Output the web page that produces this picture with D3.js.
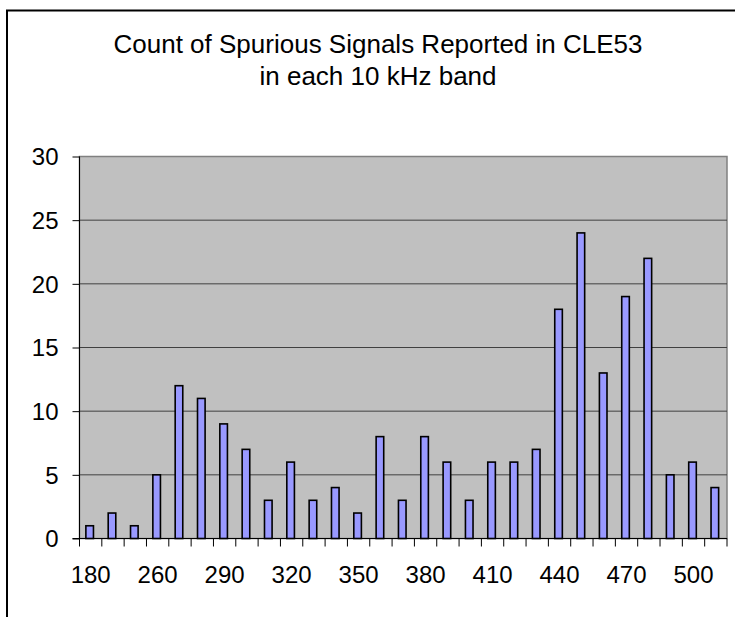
<!DOCTYPE html>
<html><head><meta charset="utf-8">
<script src="https://cdn.jsdelivr.net/npm/d3@7"></script>
<style>body{margin:0;background:#fff}svg{display:block}text{font-family:"Liberation Sans",Arial,sans-serif;fill:#000}</style>
</head><body>
<script>
const titleLines = ["Count of Spurious Signals Reported in CLE53", "in each 10 kHz band"];
const categories = ["180","200","250","260","270","280","290","300","310","320","330","340","350","360","370","380","390","400","410","420","430","440","450","460","470","480","490","500","510"];
const counts = [1,2,1,5,12,11,9,7,3,6,3,4,2,8,3,8,6,3,6,6,7,18,24,13,19,22,5,6,4];
const shownLabels = ["180","260","290","320","350","380","410","440","470","500"];
const yTicks = [0,5,10,15,20,25,30];

const W=735,H=617;
const svg=d3.select("body").append("svg").attr("width",W).attr("height",H);
svg.append("rect").attr("x",0).attr("y",0).attr("width",W).attr("height",H).attr("fill","#fff");
// outer frame (cropped on right/bottom)
svg.append("path").attr("d","M7,"+(H+5)+"V10.5H"+(W+5)).attr("fill","none").attr("stroke","#000").attr("stroke-width",2);

const L=79.5,R=727,T=156.5,B=538.5;
const xb=d3.scaleBand().domain(categories).range([L,R]);
const x=d3.scaleBand().domain(categories).range([L,R]).paddingInner(0.66).paddingOuter(0.33);
const y=d3.scaleLinear().domain([0,30]).range([B,T]);

svg.append("rect").attr("x",L).attr("y",T).attr("width",R-L).attr("height",B-T).attr("fill","#c0c0c0").attr("stroke","#808080").attr("stroke-width",1.5);

svg.append("g").selectAll("line").data(yTicks.filter(d=>d>0&&d<30)).join("line")
 .attr("x1",L).attr("x2",R).attr("y1",d=>y(d)).attr("y2",d=>y(d)).attr("stroke","#404040").attr("stroke-width",1);

svg.append("g").selectAll("rect").data(counts).join("rect")
 .attr("x",(d,i)=>x(categories[i])-1).attr("width",x.bandwidth())
 .attr("y",d=>y(d)).attr("height",d=>B-y(d))
 .attr("fill","#9999ff").attr("stroke","#000").attr("stroke-width",1.6);

// y axis
const ya=svg.append("g").attr("transform",`translate(${L},0)`).call(d3.axisLeft(y).tickValues(yTicks).tickSize(7).tickPadding(14).tickFormat(d3.format("d")));
ya.select(".domain").attr("stroke","#000").attr("d",`M0,${T}V${B}`);
ya.selectAll("line").attr("stroke","#000");
ya.selectAll("text").style("font-size","24px").attr("dy","0.34em");

// x axis
const boundaries=categories.map(c=>xb(c)).concat([R]);
const xa=svg.append("g");
xa.append("line").attr("x1",L-7).attr("x2",R).attr("y1",B).attr("y2",B).attr("stroke","#000");
xa.selectAll("line.t").data(boundaries).join("line").attr("class","t")
 .attr("x1",d=>d).attr("x2",d=>d).attr("y1",B).attr("y2",B+8).attr("stroke","#000");
xa.selectAll("text").data(shownLabels).join("text")
 .attr("x",d=>xb(d)+xb.bandwidth()/2).attr("y",583).attr("text-anchor","middle").style("font-size","24px").text(d=>d);

svg.append("g").selectAll("text").data(titleLines).join("text")
 .attr("x",378).attr("y",(d,i)=>52.5+i*32.5).attr("text-anchor","middle").style("font-size","26px").text(d=>d);
</script>
</body></html>
